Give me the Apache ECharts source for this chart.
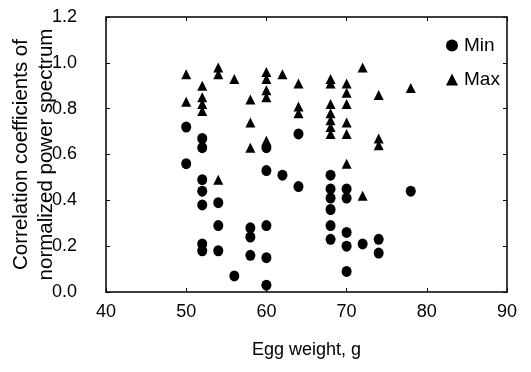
<!DOCTYPE html>
<html>
<head>
<meta charset="utf-8">
<script src="https://cdn.jsdelivr.net/npm/echarts@6/dist/echarts.min.js"></script>
<style>html,body{margin:0;padding:0;background:#fff;}#c{width:531px;height:372px;}</style>
</head>
<body>
<div id="c"></div>
<script>
// Egg weight (g) and Min correlation coefficients
var minWeight = [50,50, 52,52,52,52,52,52,52, 54,54,54, 56, 58,58,58, 60,60,60,60,60, 62, 64,64, 68,68,68,68,68,68, 70,70,70,70,70, 72, 74,74, 78];
var minCoef   = [0.72,0.56, 0.67,0.63,0.49,0.44,0.38,0.21,0.18, 0.39,0.29,0.18, 0.07, 0.28,0.24,0.16, 0.63,0.53,0.29,0.15,0.03, 0.51, 0.69,0.46, 0.51,0.45,0.41,0.36,0.29,0.23, 0.45,0.41,0.26,0.20,0.09, 0.21, 0.23,0.17, 0.44];
// Egg weight (g) and Max correlation coefficients
var maxWeight = [50,50, 52,52,52,52, 54,54,54, 56, 58,58,58, 60,60,60,60,60, 62, 64,64,64, 68,68,68,68,68,68,68, 70,70,70,70,70,70, 72,72, 74,74,74, 78];
var maxCoef   = [0.95,0.83, 0.90,0.85,0.82,0.79, 0.98,0.95,0.49, 0.93, 0.84,0.74,0.63, 0.96,0.93,0.88,0.85,0.66, 0.95, 0.91,0.81,0.78, 0.93,0.91,0.82,0.78,0.75,0.72,0.69, 0.91,0.87,0.82,0.74,0.69,0.56, 0.98,0.42, 0.86,0.67,0.64, 0.89];
var seriesNames = ['Min', 'Max'];
var xTitle = 'Egg weight, g';
var yTitle = 'Correlation coefficients of\nnormalized power spectrum';

function pairs(xs, ys) { return xs.map(function (x, i) { return [x, ys[i]]; }); }

var font = 'Liberation Sans, Arial, sans-serif';
var chart = echarts.init(document.getElementById('c'), null, {renderer: 'canvas'});
chart.setOption({
  animation: false,
  backgroundColor: '#fff',
  grid: {left: 106, right: 24, top: 17, bottom: 80, show: false, containLabel: false, outerBoundsMode: 'none'},
  legend: {
    orient: 'vertical', left: 441, top: 31,
    itemWidth: 12, itemHeight: 12, itemGap: 15,
    textStyle: {fontFamily: font, fontSize: 19, color: '#000', padding: [0, 0, 0, 1]},
    data: seriesNames
  },
  xAxis: [{
    type: 'value', min: 40, max: 90, interval: 10,
    name: xTitle, nameLocation: 'middle', nameGap: 49, nameMoveOverlap: false,
    nameTextStyle: {fontFamily: font, fontSize: 18, color: '#000'},
    axisLine: {show: true, onZero: false, lineStyle: {color: '#000', width: 1.5}},
    axisTick: {show: true, inside: true, length: 4, lineStyle: {color: '#000'}},
    axisLabel: {fontFamily: font, fontSize: 18, color: '#000', margin: 11},
    splitLine: {show: false}
  }, {
    type: 'value', min: 40, max: 90, interval: 10, position: 'top',
    axisLine: {show: true, onZero: false, lineStyle: {color: '#000', width: 1.5}},
    axisTick: {show: true, inside: true, length: 4, lineStyle: {color: '#000'}},
    axisLabel: {show: false}, splitLine: {show: false}
  }],
  yAxis: [{
    type: 'value', min: 0, max: 1.2, interval: 0.2,
    name: yTitle, nameLocation: 'middle', nameRotate: 90, nameGap: 47, nameMoveOverlap: false,
    nameTextStyle: {fontFamily: font, fontSize: 20.5, lineHeight: 25, color: '#000', align: 'center'},
    axisLine: {show: true, onZero: false, lineStyle: {color: '#000', width: 1.5}},
    axisTick: {show: true, inside: true, length: 4, lineStyle: {color: '#000'}},
    axisLabel: {fontFamily: font, fontSize: 18, color: '#000', margin: 29, padding: [5, 0, 0, 0],
      formatter: function (v) { return v.toFixed(1); }},
    splitLine: {show: false}
  }, {
    type: 'value', min: 0, max: 1.2, interval: 0.2, position: 'right',
    axisLine: {show: true, onZero: false, lineStyle: {color: '#000', width: 1.5}},
    axisTick: {show: true, inside: true, length: 4, lineStyle: {color: '#000'}},
    axisLabel: {show: false}, splitLine: {show: false}
  }],
  series: [{
    name: seriesNames[0], type: 'scatter', symbol: 'circle', symbolSize: [10, 11],
    itemStyle: {color: '#000', opacity: 1},
    data: pairs(minWeight, minCoef)
  }, {
    name: seriesNames[1], type: 'scatter', symbol: 'triangle', symbolSize: [10, 10],
    itemStyle: {color: '#000', opacity: 1},
    data: pairs(maxWeight, maxCoef)
  }]
});
</script>
</body>
</html>
